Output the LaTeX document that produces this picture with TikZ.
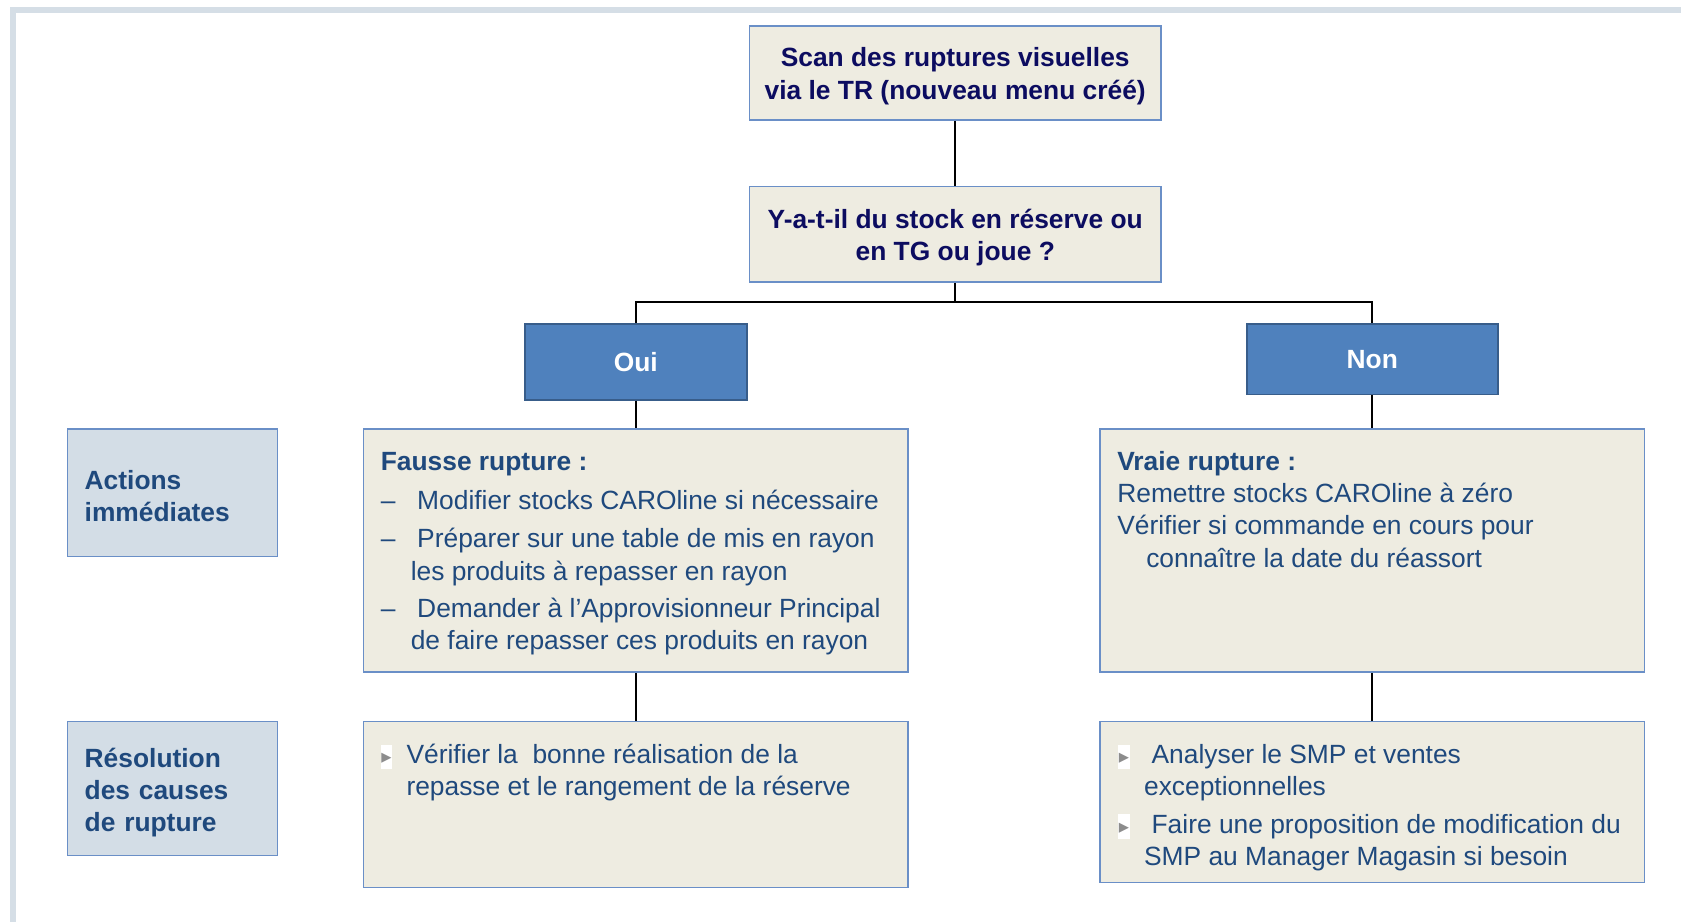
\documentclass[tikz,border=0pt]{standalone}
\usepackage{fontspec}
\setmainfont{Liberation Sans}
\newfontfamily\dejavu{DejaVu Sans}
\usetikzlibrary{positioning}

\definecolor{panelfill}{HTML}{EEECE1}
\definecolor{panelline}{HTML}{6A8FC7}
\definecolor{labelfill}{HTML}{D3DDE6}
\definecolor{answerfill}{HTML}{4F81BD}
\definecolor{answerline}{HTML}{385D8A}
\definecolor{navytext}{HTML}{0C0C60}
\definecolor{bodyblue}{HTML}{1F497D}
\definecolor{framecol}{HTML}{D5DEE6}
\definecolor{bulletgray}{HTML}{8C8C8C}

\newcommand\bodyfont{\fontsize{24.6}{30}\selectfont}
\newcommand\puce{{\setlength{\fboxsep}{0.5pt}\colorbox{white}{\vphantom{Ay}\textcolor{bulletgray}{\dejavu\fontsize{19}{19}\selectfont ▸}}}}
\newcommand\lift{\rule{0pt}{24pt}}

\tikzstyle{topbox} = [draw=panelline, fill=panelfill, line width=1.5pt, minimum width=384pt, minimum height=88pt, align=center, inner sep=0pt, text=navytext, font=\bfseries\bodyfont]
\tikzstyle{answer} = [draw=answerline, fill=answerfill, line width=1.5pt, inner sep=0pt, text=white, font=\bfseries\bodyfont]
\tikzstyle{panel} = [draw=panelline, fill=panelfill, line width=1.5pt, minimum width=508pt, inner sep=0pt]
\tikzstyle{rowlabel} = [draw=panelline, fill=labelfill, line width=1.5pt, minimum width=196pt, text width=164pt, inner xsep=16pt, inner ysep=0pt, align=left, text=bodyblue, font=\bfseries\bodyfont]
\tikzstyle{bodytext} = [align=left, inner sep=0pt, text=bodyblue, font=\bodyfont]
\tikzstyle{link} = [line width=1.6pt]

\begin{document}
\begin{tikzpicture}[x=1pt, y=-1pt]
	\useasboundingbox (0,0) rectangle (1568,860);
	\draw[framecol, line width=5.5pt] (12,860) -- (12,9.5) -- (1568,9.5);
	
	\node[topbox] (scan) at (891,68) {\lift Scan des ruptures visuelles\\via le TR (nouveau menu créé)};
	\node[topbox, minimum height=89pt] (question) at (891,218.5) {\lift Y-a-t-il du stock en réserve ou\\en TG ou joue ?};
	\coordinate (split) at (891,282);
	
	\node[answer, minimum width=207pt, minimum height=71pt] (oui) at (593,337.5) {Oui};
	\node[answer, minimum width=234pt, minimum height=66pt] (non) at (1280,335) {Non};
	
	\node[rowlabel, minimum height=119pt] (actions) at (161,459.5) {\lift Actions\\immédiates};
	\node[rowlabel, minimum height=125pt] (resolution) at (161,735.5) {\rule{0pt}{25pt}Résolution\\des causes\\de rupture};
	
	\node[panel, minimum height=227pt] (fausse) at (593,513.5) {};
	\node[panel, minimum height=227pt] (vraie) at (1280,513.5) {};
	\node[panel, minimum height=155pt] (verif) at (593,750.5) {};
	\node[panel, minimum height=150pt] (analyse) at (1280,748) {};
	
	\node[bodytext, anchor=base west] (fausse text) at (355,606) {\textbf{Fausse rupture :}\\[6pt]
		\makebox[34pt][l]{–}Modifier stocks CAROline si nécessaire\\[6pt]
		\makebox[34pt][l]{–}Préparer sur une table de mis en rayon\\
		\hspace*{28pt}les produits à repasser en rayon\\[5pt]
		\makebox[34pt][l]{–}Demander à l’Approvisionneur Principal\\
		\hspace*{28pt}de faire repasser ces produits en rayon};
	\node[bodytext, anchor=base west] (vraie text) at (1042,529) {\textbf{Vraie rupture :}\\
		Remettre stocks CAROline à zéro\\
		Vérifier si commande en cours pour\\
		\hspace*{27pt}connaître la date du réassort};
	\node[bodytext, anchor=base west] (verif text) at (355,742) {\makebox[24pt][l]{\puce}Vérifier la\ \ bonne réalisation de la\\
		\hspace*{24pt}repasse et le rangement de la réserve};
	\node[bodytext, anchor=base west] (analyse text) at (1043,807) {\makebox[31pt][l]{\puce}Analyser le SMP et ventes\\
		\hspace*{24pt}exceptionnelles\\[5pt]
		\makebox[31pt][l]{\puce}Faire une proposition de modification du\\
		\hspace*{24pt}SMP au Manager Magasin si besoin};
	
	\draw[link] (scan) -- (question);
	\draw[link] (question) -- (split);
	\draw[link] (oui.north) |- (split);
	\draw[link] (non.north) |- (split);
	\draw[link] (oui) -- (fausse);
	\draw[link] (non) -- (vraie);
	\draw[link] (fausse) -- (verif);
	\draw[link] (vraie) -- (analyse);
\end{tikzpicture}
\end{document}
